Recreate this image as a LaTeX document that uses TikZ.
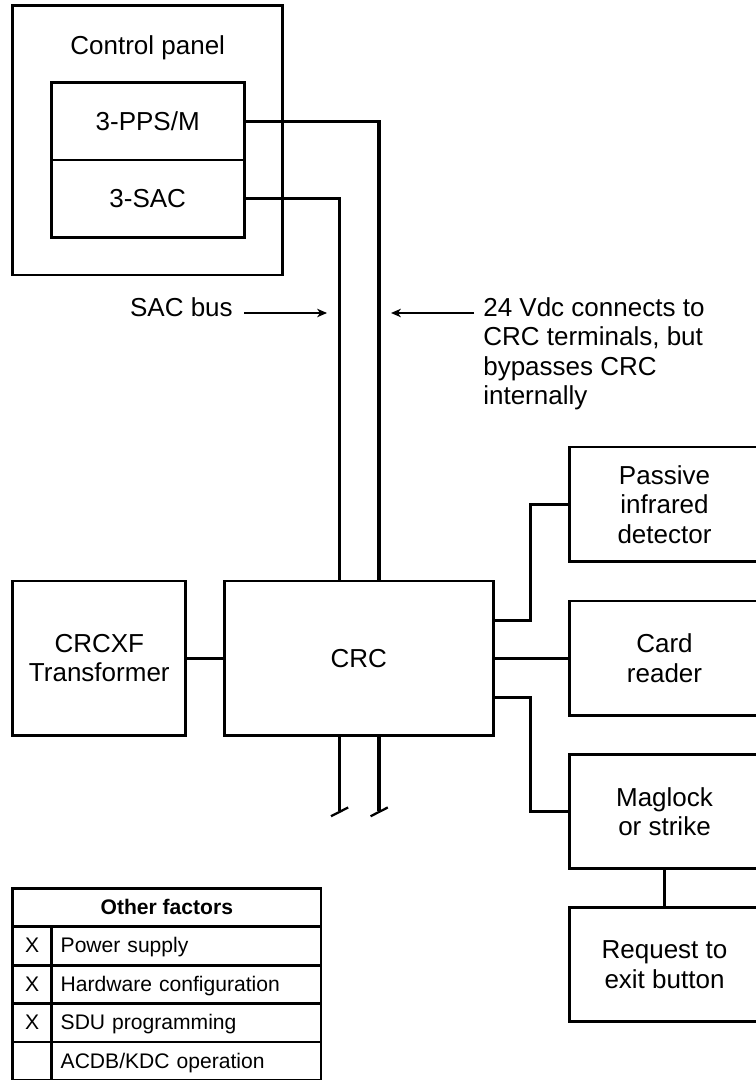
\documentclass[tikz,border=0pt]{standalone}
\usepackage{fontspec}
\setmainfont{Liberation Sans}
\usepackage{tikz}
\usetikzlibrary{arrows.meta, positioning}

\begin{document}
\begin{tikzpicture}[
    node distance=0.975cm and 1.9cm,
    box/.style={rectangle, draw=black, line width=2pt, inner sep=2pt, outer sep=0pt,
                align=center, font=\fontsize{18.5}{21}\selectfont},
    device/.style={box, minimum width=4.76cm, minimum height=2.86cm},
    wire/.style={line width=2.2pt},
    pointer/.style={-{Stealth[length=7pt, width=6pt, inset=2pt]}, line width=1.1pt},
    note/.style={inner ysep=0pt, font=\fontsize{18.5}{21}\selectfont},
    cell/.style={rectangle, draw=black, line width=2pt, minimum height=0.96cm,
                 inner ysep=0pt, outer sep=0pt, text height=13pt, text depth=3pt,
                 font=\fontsize{15}{17}\selectfont},
    flagcell/.style={cell, minimum width=0.975cm},
    factor/.style={cell, minimum width=6.7325cm, text width=6.2825cm,
                   inner xsep=0.225cm, align=left}
]
\useasboundingbox (0,0) rectangle (18.875,-27);

% Control panel
\node[box, minimum width=6.75cm, minimum height=6.73cm] (panel) at (3.6925,-3.509) {};
\node[note] (paneltitle) at ([yshift=-1.04cm]panel.north) {Control panel};
\node[box, minimum width=4.825cm, minimum height=1.93cm, below=1.925cm of panel.north] (pps) {3-PPS/M};
\node[box, minimum width=4.825cm, minimum height=1.93cm, below=0pt of pps] (sac) {3-SAC};

% CRC and field devices
\node[box, minimum width=6.725cm, minimum height=3.86cm] (crc) at (8.97,-16.456) {CRC};
\node[box, minimum width=4.33cm, minimum height=3.86cm, left=0.96cm of crc] (xf) {CRCXF\\Transformer};
\node[device, right=1.9cm of crc] (card) {Card\\reader};
\node[device, above=0.99cm of card] (pir) {Passive\\infrared\\detector};
\node[device, below=of card] (mag) {Maglock\\or strike};
\node[device, below=0.96cm of mag] (rte) {Request to\\exit button};

% Wiring
\coordinate (sacin) at ([xshift=-0.485cm]crc.north);
\coordinate (vin) at ([xshift=0.505cm]crc.north);
\draw[wire] (sac.east) -| (sacin);
\draw[wire] (pps.east) -| (vin);
\draw[wire] (xf) -- (crc);
\draw[wire] (crc) -- (card);
\draw[wire] ([yshift=0.94cm]crc.east) -- ++(0.94,0) |- (pir.west);
\draw[wire] ([yshift=-0.98cm]crc.east) -- ++(0.94,0) |- (mag.west);
\draw[wire] (mag) -- (rte);

% Bus continues below CRC
\coordinate (sacout) at ([xshift=-0.485cm]crc.south);
\coordinate (vout) at ([xshift=0.505cm]crc.south);
\draw[wire] (sacout) -- ++(0,-1.88) coordinate (sacend);
\draw[wire] (vout) -- ++(0,-1.88) coordinate (vend);
\draw[line width=1.6pt] ([shift={(-0.21,-0.14)}]sacend) -- ([shift={(0.22,0.08)}]sacend);
\draw[line width=1.6pt] ([shift={(-0.21,-0.14)}]vend) -- ([shift={(0.22,0.08)}]vend);

% Callouts
\coordinate (sactip) at (8.175,-7.825);
\coordinate (vdctip) at (9.775,-7.825);
\node[note, anchor=base east, inner xsep=0.275cm] (sacbus) at (6.1,-7.9) {SAC bus};
\draw[pointer] (sacbus.east |- sactip) -- (sactip);
\node[note, anchor=north west, inner xsep=0.225cm, align=left] (vdcnote) at (11.85,-7.425)
      {24 Vdc connects to\\CRC terminals, but\\bypasses CRC\\internally};
\draw[pointer] (vdcnote.west |- vdctip) -- (vdctip);

% Other factors table
\node[cell, minimum width=7.7075cm, font=\bfseries\fontsize{15}{17}\selectfont] (hdr) at (4.171,-22.6875) {Other factors};
\node[flagcell, anchor=north west] (x1) at (hdr.south west) {X};
\node[factor, right=0pt of x1] (f1) {Power supply};
\node[flagcell, below=0pt of x1] (x2) {X};
\node[factor, right=0pt of x2] (f2) {Hardware configuration};
\node[flagcell, below=0pt of x2] (x3) {X};
\node[factor, right=0pt of x3] (f3) {SDU programming};
\node[flagcell, below=0pt of x3] (x4) {};
\node[factor, right=0pt of x4] (f4) {ACDB/KDC operation};

\end{tikzpicture}
\end{document}
